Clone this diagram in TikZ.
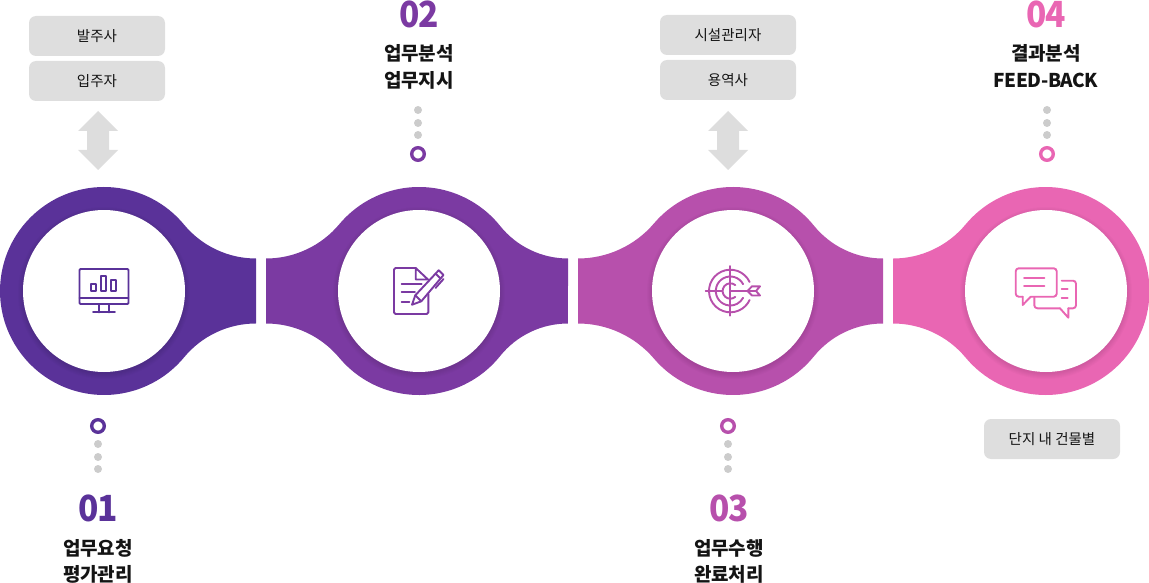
\documentclass[tikz,border=0pt]{standalone}
\usepackage{fontspec}
\newfontfamily\kr{Noto Sans CJK KR}
\newfontfamily\krn[LetterSpace=-4,FakeStretch=.93]{Noto Sans CJK KR}
\newfontfamily\krl[LetterSpace=-1.5]{Noto Sans CJK KR}
\newfontfamily\krf[LetterSpace=-2.5]{Noto Sans CJK KR}
\definecolor{cA}{HTML}{5A3299}
\definecolor{cB}{HTML}{7B3AA2}
\definecolor{cC}{HTML}{B750AC}
\definecolor{cD}{HTML}{E966B3}
\definecolor{boxg}{HTML}{DEDEDE}
\definecolor{arrg}{HTML}{DDDDDD}
\definecolor{dotg}{HTML}{CCCCCC}
\definecolor{ink}{HTML}{141414}
\tikzset{
  pillbox/.style={fill=boxg,rounded corners=7pt,minimum width=136pt,minimum height=40pt,inner sep=0pt,font=\kr\fontsize{14.5}{16}\selectfont,text=ink},
  titletext/.style={anchor=base,inner sep=0pt,font=\krl\bfseries\fontsize{19}{22}\selectfont,text=ink},
  numtext/.style={anchor=base,inner sep=0pt,font=\krn\bfseries\fontsize{36}{40}\selectfont},
  icon/.style={line width=1.9pt,line join=round,line cap=round},
  graydot/.style={circle,fill=dotg,minimum size=8pt,inner sep=0pt},
  ringdot/.style={circle,draw,line width=3.4pt,fill=white,minimum size=12.6pt,inner sep=0pt}
}
\newcommand\RR{104}
\newcommand\HH{32.5}
% compute the fillet radius and tangent angle for a lobe side of length #1
\newcommand\calcfillet[3]{%
  \pgfmathsetmacro#2{((#1/100)*(#1/100)+(\HH/100)*(\HH/100)-(\RR/100)*(\RR/100))*100/(2*(\RR-\HH))*100}%
  \pgfmathsetmacro#3{atan((\HH+#2)/#1)}}
\newcommand\whitedisc[2]{%
  \foreach \k in {6,5,4,3,2,1}{\fill[black,opacity=.016] (#1,#2+2) circle[radius=80pt+\k*1pt];}
  \fill[white] (#1,#2) circle[radius=81pt];}
\newcommand\arrowdbl[2]{%
  \fill[arrg] (#1,#2) -- ++(20,20) -- ++(-9,0) -- ++(0,19) -- ++(9,0) -- ++(-20,20) -- ++(-20,-20) -- ++(9,0) -- ++(0,-19) -- ++(-9,0) -- cycle;}
\begin{document}
\begin{tikzpicture}[x=1pt,y=-1pt]
\useasboundingbox (0,0) rectangle (1149,583);
\clip (0,0) rectangle (1149,583);
% lobe 1
\calcfillet{152}{\rR}{\aR}
\fill[cA] (256,291-\HH) arc[start angle=270,end angle=180+\aR,radius=\rR pt]
  arc[start angle=\aR,end angle=360-\aR,radius=\RR pt]
  arc[start angle=180-\aR,end angle=90,radius=\rR pt] -- cycle;
% lobe 2
\calcfillet{153}{\rL}{\aL}
\calcfillet{149}{\rR}{\aR}
\fill[cB] (568,291-\HH) arc[start angle=270,end angle=180+\aR,radius=\rR pt]
  arc[start angle=\aR,end angle=180-\aL,radius=\RR pt]
  arc[start angle=360-\aL,end angle=270,radius=\rL pt] -- (266,291+\HH)
  arc[start angle=90,end angle=\aL,radius=\rL pt]
  arc[start angle=180+\aL,end angle=360-\aR,radius=\RR pt]
  arc[start angle=180-\aR,end angle=90,radius=\rR pt] -- cycle;
% lobe 3
\calcfillet{155}{\rL}{\aL}
\calcfillet{150}{\rR}{\aR}
\fill[cC] (883,291-\HH) arc[start angle=270,end angle=180+\aR,radius=\rR pt]
  arc[start angle=\aR,end angle=180-\aL,radius=\RR pt]
  arc[start angle=360-\aL,end angle=270,radius=\rL pt] -- (578,291+\HH)
  arc[start angle=90,end angle=\aL,radius=\rL pt]
  arc[start angle=180+\aL,end angle=360-\aR,radius=\RR pt]
  arc[start angle=180-\aR,end angle=90,radius=\rR pt] -- cycle;
% lobe 4
\calcfillet{152.5}{\rL}{\aL}
\fill[cD] (893,291+\HH)
  arc[start angle=90,end angle=\aL,radius=\rL pt]
  arc[start angle=180+\aL,end angle=540-\aL,radius=\RR pt]
  arc[start angle=360-\aL,end angle=270,radius=\rL pt] -- cycle;
\whitedisc{104}{291}
\whitedisc{419}{291}
\whitedisc{733}{291}
\whitedisc{1046}{291}
% monitor icon
\begin{scope}[icon,draw=cA]
\draw[rounded corners=1pt] (79.5,269) rectangle (128.5,304);
\draw (79.5,298.3) -- (128.5,298.3);
\draw (90.7,284.3) rectangle (96,291);
\draw (100.7,276.3) rectangle (106.3,291);
\draw (110.7,280.3) rectangle (116.3,291);
\draw (98.7,304) -- (98.7,312.4) (108.7,304) -- (108.7,312.4);
\draw (93,312.4) -- (115,312.4);
\end{scope}
% document icon
\begin{scope}[icon,draw=cB]
\draw[rounded corners=1.5pt] (428.3,294) -- (428.3,314) -- (394,314) -- (394,268) -- (415.7,268);
\draw (415.7,268) -- (428,279.5) -- (415.7,279.5) -- cycle;
\draw (401.7,284.3) -- (421.7,284.3);
\draw (401.7,292.3) -- (415,292.3);
\draw (401.7,301.7) -- (409.3,301.7);
\draw (412,304.7) -- (415.3,295.3) -- (438.7,270.3) -- (443.5,275) -- (421.3,301.3) -- cycle;
\draw (435.5,273.5) -- (440.5,278.5);
\draw (443.5,279) -- (435.5,288);
\draw (415.3,295.3) -- (421.3,301.3);
\end{scope}
% target icon
\begin{scope}[icon,draw=cC]
\draw (730.3,291)+(25:21.3pt) arc[start angle=25,end angle=335,radius=21.3pt];
\draw (730.3,291)+(28:14.5pt) arc[start angle=28,end angle=332,radius=14.5pt];
\draw (730.3,291)+(50:7.7pt) arc[start angle=50,end angle=310,radius=7.7pt];
\draw (730.3,266) -- (730.3,315.7);
\draw (705.7,291) -- (722,291);
\draw (730.3,291) -- (756,291);
\draw (747.5,291) -- (752,286.3) -- (760,286.3) -- (756,291) -- (760,295.5) -- (752,295.5) -- cycle;
\end{scope}
% chat icon
\begin{scope}[icon,draw=cD]
\draw[rounded corners=3pt] (1030.7,296.7) -- (1056.7,296.7) -- (1056.7,268.3) -- (1015.7,268.3) -- (1015.7,296.7) -- (1022.7,296.7);
\draw (1022.7,296.7) -- (1022.7,305) -- (1030.7,296.7);
\draw (1024,277.7) -- (1044.3,277.7) (1024,285.7) -- (1044.3,285.7);
\draw[rounded corners=3pt] (1061.7,280.7) -- (1076,280.7) -- (1076,308.3) -- (1068.3,308.3);
\draw (1068.3,308.3) -- (1068.3,317.7) -- (1060,308.3);
\draw[rounded corners=3pt] (1060,308.3) -- (1034.3,308.3) -- (1034.3,297.5);
\draw (1061.7,289.3) -- (1067.7,289.3) (1061.7,297.7) -- (1067.7,297.7);
\end{scope}
% pills
\node[pillbox] (p1) at (97,36) {발주사};
\node[pillbox] (p2) at (97,81) {입주자};
\node[pillbox] (p3) at (728,35) {시설관리자};
\node[pillbox] (p4) at (728,80) {용역사};
\node[pillbox] (p5) at (1052,439) {단지 내 건물별};
\arrowdbl{98}{111}
\arrowdbl{728}{111}
% dots
\node[graydot] (a1) at (98,444) {};
\node[graydot] (a2) at (98,457) {};
\node[graydot] (a3) at (98,469) {};
\node[ringdot,draw=cA] (ar) at (98,426) {};
\node[graydot] (b1) at (418,110) {};
\node[graydot] (b2) at (418,123) {};
\node[graydot] (b3) at (418,135) {};
\node[ringdot,draw=cB] (br) at (418,154) {};
\node[graydot] (c1) at (728,444) {};
\node[graydot] (c2) at (728,457) {};
\node[graydot] (c3) at (728,469) {};
\node[ringdot,draw=cC] (cr) at (728,426) {};
\node[graydot] (d1) at (1047,110) {};
\node[graydot] (d2) at (1047,123) {};
\node[graydot] (d3) at (1047,135) {};
\node[ringdot,draw=cD] (dr) at (1047,154) {};
% numbers and titles
\node[numtext,text=cA] (n1) at (98,521) {01};
\node[titletext] (t1a) at (98,555) {업무요청};
\node[titletext] (t1b) at (98,581) {평가관리};
\node[numtext,text=cB] (n2) at (419,28) {02};
\node[titletext] (t2a) at (419,61) {업무분석};
\node[titletext] (t2b) at (419,88) {업무지시};
\node[numtext,text=cC] (n3) at (729,521) {03};
\node[titletext] (t3a) at (729,555) {업무수행};
\node[titletext] (t3b) at (729,581) {완료처리};
\node[numtext,text=cD] (n4) at (1046,28) {04};
\node[titletext] (t4a) at (1046,61) {결과분석};
\node[titletext,font=\krf\bfseries\fontsize{19}{22}\selectfont] (t4b) at (1046,88) {FEED-BACK};
\end{tikzpicture}
\end{document}
